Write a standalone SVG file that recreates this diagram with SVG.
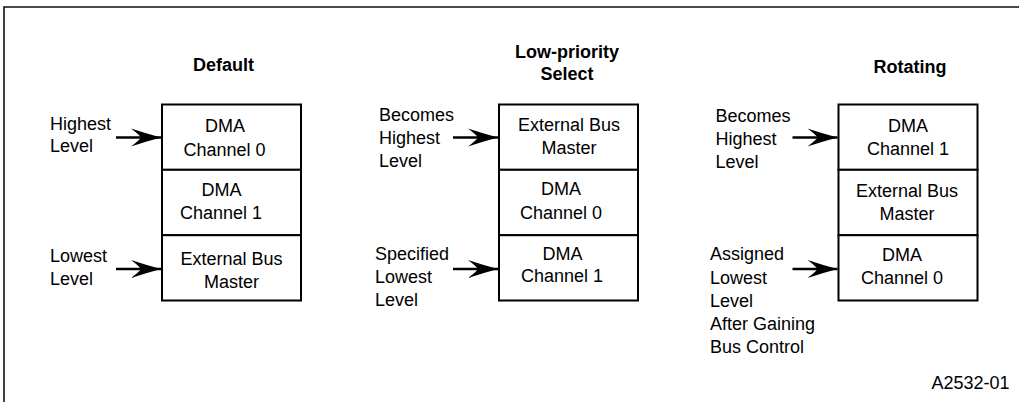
<svg xmlns="http://www.w3.org/2000/svg" width="1019" height="402" viewBox="0 0 1019 402">
<style>
text{font-family:"Liberation Sans",Arial,sans-serif;font-size:18px;fill:#000}
.t{font-weight:bold;text-anchor:middle}
.c{text-anchor:middle}
.cell{fill:#fff;stroke:#000;stroke-width:2}
.arr{stroke:#000;stroke-width:2.6;fill:none}
.frame{stroke:#111;stroke-width:1.6;fill:none}
</style>
<defs>
<marker id="ah" markerUnits="userSpaceOnUse" viewBox="-31 -10 32 20" refX="0" refY="0" markerWidth="32" markerHeight="20" orient="auto">
<path d="M0,0 Q-15,-4 -30,-9 Q-22,-3 -20,0 Q-22,3 -30,9 Q-15,4 0,0 Z" fill="#000"/>
</marker>
</defs>
<rect width="1019" height="402" fill="#fff"/>
<path class="frame" d="M4,402 V7 H1019"/>

<g id="title-default"><text class="t" x="223.5" y="71">Default</text></g>
<g id="title-lowpriority"><text class="t" x="567" y="57.5">Low-priority</text><text class="t" x="567" y="80">Select</text></g>
<g id="title-rotating"><text class="t" x="910" y="73">Rotating</text></g>

<g id="default-dma0"><rect class="cell" x="162" y="104.5" width="139" height="65.3"/><text class="c" x="225" y="132.3">DMA</text><text class="c" x="224.5" y="156">Channel 0</text></g>
<g id="default-dma1"><rect class="cell" x="162" y="169.8" width="139" height="65.4"/><text class="c" x="221.5" y="196">DMA</text><text class="c" x="221" y="218.5">Channel 1</text></g>
<g id="default-ebm"><rect class="cell" x="162" y="235.2" width="139" height="65.3"/><text class="c" x="231.5" y="264.5">External Bus</text><text class="c" x="231.5" y="287.5">Master</text></g>

<g id="lp-ebm"><rect class="cell" x="499" y="104.5" width="139" height="65.3"/><text class="c" x="569" y="131">External Bus</text><text class="c" x="569" y="153.5">Master</text></g>
<g id="lp-dma0"><rect class="cell" x="499" y="169.8" width="139" height="65.4"/><text class="c" x="561" y="195">DMA</text><text class="c" x="561" y="218.5">Channel 0</text></g>
<g id="lp-dma1"><rect class="cell" x="499" y="235.2" width="139" height="65.3"/><text class="c" x="562.5" y="259.5">DMA</text><text class="c" x="562" y="282">Channel 1</text></g>

<g id="rot-dma1"><rect class="cell" x="838.5" y="104.5" width="139" height="65.3"/><text class="c" x="908" y="131.5">DMA</text><text class="c" x="908" y="155">Channel 1</text></g>
<g id="rot-ebm"><rect class="cell" x="838.5" y="169.8" width="139" height="65.4"/><text class="c" x="907" y="196.5">External Bus</text><text class="c" x="907" y="220">Master</text></g>
<g id="rot-dma0"><rect class="cell" x="838.5" y="235.2" width="139" height="65.3"/><text class="c" x="902" y="261">DMA</text><text class="c" x="902" y="283.5">Channel 0</text></g>

<g id="label-default-high"><text x="50" y="129.5">Highest</text><text x="50" y="152">Level</text></g>
<g id="label-default-low"><text x="50" y="261.5">Lowest</text><text x="50" y="284.5">Level</text></g>
<g id="label-lp-high"><text x="379" y="121">Becomes</text><text x="379" y="144">Highest</text><text x="379" y="167">Level</text></g>
<g id="label-lp-low"><text x="375" y="260">Specified</text><text x="375" y="282.5">Lowest</text><text x="375" y="305.5">Level</text></g>
<g id="label-rot-high"><text x="715.5" y="122">Becomes</text><text x="715.5" y="145">Highest</text><text x="715.5" y="168">Level</text></g>
<g id="label-rot-low"><text x="710" y="260">Assigned</text><text x="710" y="283.5">Lowest</text><text x="710" y="306.5">Level</text><text x="710" y="330">After Gaining</text><text x="710" y="353.3">Bus Control</text></g>

<g id="connectors">
<line class="arr" x1="116" y1="137.5" x2="161" y2="137.5" marker-end="url(#ah)"/>
<line class="arr" x1="116" y1="269" x2="161" y2="269" marker-end="url(#ah)"/>
<line class="arr" x1="453" y1="137.5" x2="498" y2="137.5" marker-end="url(#ah)"/>
<line class="arr" x1="453" y1="269" x2="498" y2="269" marker-end="url(#ah)"/>
<line class="arr" x1="792.5" y1="137.5" x2="837.5" y2="137.5" marker-end="url(#ah)"/>
<line class="arr" x1="792.5" y1="269" x2="837.5" y2="269" marker-end="url(#ah)"/>
</g>

<g id="figure-id"><text x="1009.5" y="388.5" text-anchor="end">A2532-01</text></g>
</svg>
